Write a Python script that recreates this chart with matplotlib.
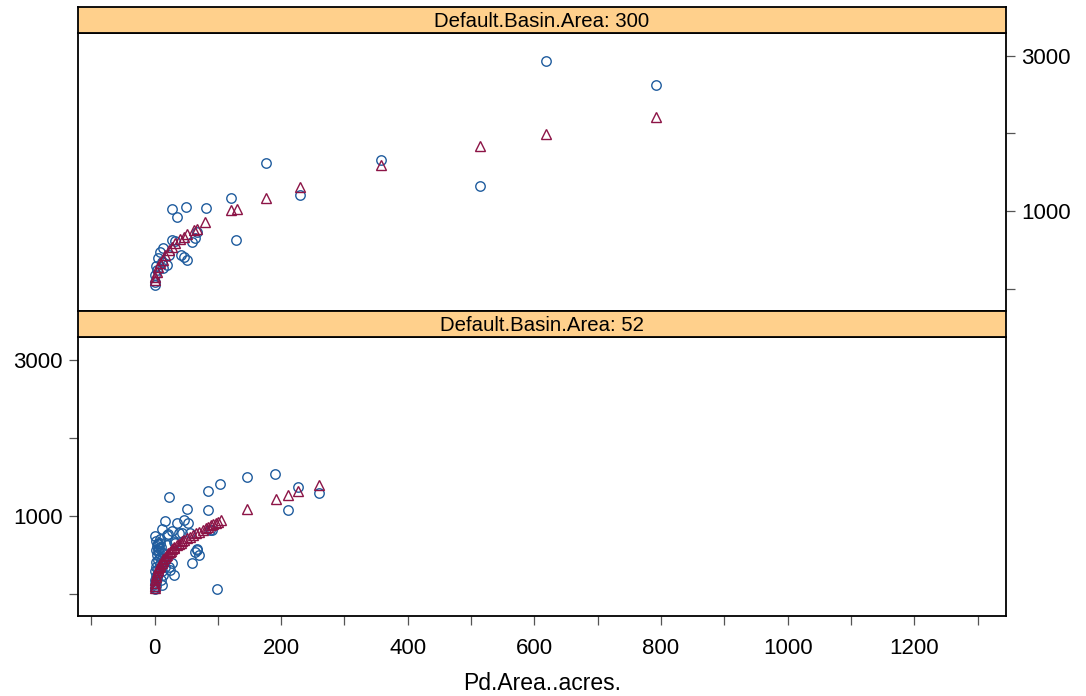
import numpy as np
import matplotlib.pyplot as plt

plt.rcParams['font.family'] = ['Liberation Sans', 'DejaVu Sans']

# panel: Default.Basin.Area = 300
area_300_obs = [619, 792, 176, 358, 514, 229, 121, 81, 50, 27, 36, 129,
                67, 64, 59, 27, 14, 9, 6, 12, 46, 41, 51, 22, 19, 4, 1, 1, 1, 14, 2, 32]
vol_300_obs = [2925, 2623, 1625, 1654, 1322, 1207, 1177, 1040, 1053, 1027, 925, 631,
               737, 653, 609, 631, 525, 481, 397, 353, 417, 439, 375, 439, 311, 247, 183, 55, 97, 269, 298, 620]
area_300_fit = [792, 619, 514, 358, 229, 176, 130, 121, 80, 67, 62, 51, 46, 40,
                33, 27, 22, 17, 13, 9, 6, 4, 1, 1]
vol_300_fit = [2214, 1996, 1843, 1590, 1313, 1177, 1036, 1015, 857, 772, 759, 708, 673, 644,
               589, 545, 503, 439, 375, 333, 289, 225, 161, 119]

# panel: Default.Basin.Area = 52
area_52_obs = [22, 84, 104, 146, 190, 227, 260, 210, 85, 51, 17, 35, 46, 53, 90, 67,
               27, 19, 38, 6, 6, 19, 33, 64, 70, 59, 88, 98, 27, 30, 22, 25,
               11, 21, 43, 56, 30, 67,
               0, 1, 2, 0, 3, 1, 4, 2, 5, 1, 6, 3, 8, 2, 5, 9, 4, 7, 3, 10, 5, 2, 8,
               12, 11, 13, 10, 15, 14, 16, 12, 4, 7, 1, 9]
vol_52_obs = [1248, 1321, 1410, 1496, 1542, 1376, 1295, 1073, 1073, 1094, 936, 906, 949, 906, 817, 577,
              802, 756, 778, 650, 564, 628, 650, 542, 500, 393, 820, 60, 393, 244, 350, 308,
              829, 769, 778, 778, 671, 564,
              60, 80, 100, 130, 150, 175, 200, 230, 260, 290, 320, 350, 380, 410, 440, 470, 500, 530, 560, 600, 640, 680, 710,
              450, 300, 250, 180, 420, 520, 350, 120, 620, 590, 740, 660]
area_52_fit = [0, 0, 0, 1, 2, 3, 4, 5, 6, 7, 8, 9, 11, 13, 14, 16, 18, 19, 21, 24, 26, 28,
               30, 31, 35, 38, 41, 44, 47, 51, 56, 60, 66, 70, 77, 81, 85, 89, 93, 97, 100, 105,
               146, 191, 210, 227, 260]
vol_52_fit = [77, 110, 141, 180, 222, 250, 282, 310, 330, 346, 365, 380, 394, 420, 449, 465, 487, 505, 522, 540, 558, 575,
              590, 608, 628, 645, 660, 676, 692, 712, 735, 755, 782, 800, 821, 842, 863, 880, 897, 912, 927, 949,
              1090, 1214, 1269, 1317, 1397]

panels = [("Default.Basin.Area: 300", area_300_obs, vol_300_obs, area_300_fit, vol_300_fit),
          ("Default.Basin.Area: 52", area_52_obs, vol_52_obs, area_52_fit, vol_52_fit)]

obs_col = '#1F5C9E'
fit_col = '#8C1446'
strip_col = '#FFD08C'

W, H = 1086, 696
fig = plt.figure(figsize=(W / 100, H / 100), dpi=100)

def frac(x0, y0, x1, y1):
    return [x0 / W, 1 - y1 / H, (x1 - x0) / W, (y1 - y0) / H]

# (panel top, panel bottom, strip top) in pixels
boxes = [(33, 311, 7), (337, 616, 311)]

for i, (title, ax_obs, v_obs, ax_fit, v_fit) in enumerate(panels):
    top, bot, stop = boxes[i]
    ax = fig.add_axes(frac(78, top, 1006, bot))
    ax.plot(ax_obs, v_obs, 'o', ms=6.8, mfc='none', mec=obs_col, mew=1.0)
    ax.plot(ax_fit, v_fit, '^', ms=6.8, mfc='none', mec=fit_col, mew=1.0)
    ax.set_xlim(-121, 1345)
    ax.set_ylim(-280, 3290)
    ax.set_yticks([0, 1000, 2000, 3000])
    ax.set_yticklabels(['', '1000', '', '3000'])
    ax.tick_params(direction='out', length=6.5, width=0.9, color='#555555',
                   labelsize=16)
    ax.tick_params(axis='y', pad=4.5)
    ax.tick_params(axis='x', pad=9.5)
    for s in ax.spines.values():
        s.set_linewidth(1.3)
    if i == 0:
        ax.yaxis.tick_right()
        ax.set_xticks([])
    else:
        ax.yaxis.tick_left()
        ax.set_xticks(np.arange(-100, 1301, 100))
        ax.set_xticklabels([str(v) if v % 200 == 0 and v >= 0 and v <= 1200 else ''
                            for v in range(-100, 1301, 100)])
        ax.set_xlabel('Pd.Area..acres.', fontsize=16.5, labelpad=9)

    sx = fig.add_axes(frac(78, stop, 1006, top))
    sx.set_facecolor(strip_col)
    sx.set_xticks([])
    sx.set_yticks([])
    for s in sx.spines.values():
        s.set_linewidth(1.3)
    sx.text(0.5, 0.45, title, ha='center', va='center', fontsize=14.7,
            transform=sx.transAxes)

fig.savefig('out.png', dpi=100)
